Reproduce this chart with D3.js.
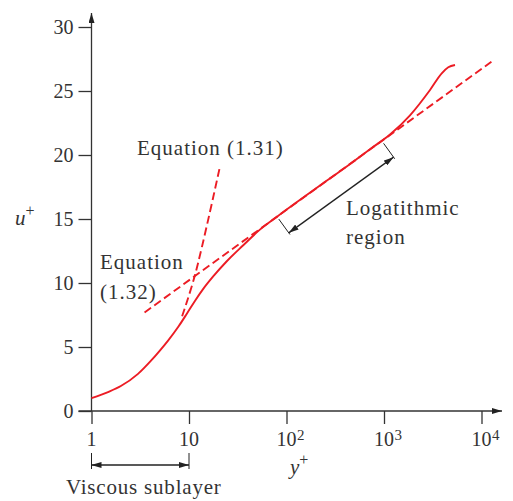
<!DOCTYPE html>
<html>
<head>
<meta charset="utf-8">
<script src="https://cdn.jsdelivr.net/npm/d3@7"></script>
<style>
  html, body { margin: 0; padding: 0; background: #fff; }
  svg { display: block; }
  text { font-family: "Liberation Serif", "DejaVu Serif", serif; fill: #333; }
</style>
</head>
<body>
<script>
// Tick values
const xTicks = [1, 10, 100, 1000, 10000];
const yTicks = [0, 5, 10, 15, 20, 25, 30];

// Velocity profile u+ against y+ (solid curve)
const profileYPlus = [1, 1.5, 2, 3, 4.1, 5, 6.1, 7.8, 9.5, 11.5, 14, 17.7, 24.4, 36, 53, 80, 260, 480, 718, 1153, 1848, 2965, 3909, 4565, 5350];
const profileUPlus = [1.0, 1.5, 1.95, 2.9, 3.95, 4.7, 5.5, 6.6, 7.6, 8.6, 9.54, 10.51, 11.7, 12.95, 14.15, 15.18, 18.0, 19.45, 20.45, 21.6, 23.1, 25.08, 26.38, 26.85, 27.03];

// Equation (1.31): viscous sublayer, u+ = y+
const eq131YPlus = [8.5, 11.5, 20.5];
const eq131UPlus = [7.4, 10.6, 18.9];

// Equation (1.32): log law
const eq132YPlus = [3.5, 12700];
const eq132UPlus = [7.7, 27.3];

// Extent of the marked regions (y+)
const viscousRange = [1, 10];
const logRange = [80, 950];

const W = 513, H = 501;
const RED = "#ec1c24";
const INK = "#333";

const svg = d3.select("body").append("svg").attr("width", W).attr("height", H);
svg.append("rect").attr("width", W).attr("height", H).attr("fill", "#fff");

const x = d3.scaleLog().domain([1, 10000]).range([91.5, 481.5]);
const y = d3.scaleLinear().domain([0, 30]).range([411, 27]);

const defs = svg.append("defs");
defs.append("marker")
  .attr("id", "head").attr("viewBox", "0 0 10 6")
  .attr("refX", 10).attr("refY", 3)
  .attr("markerWidth", 10).attr("markerHeight", 6)
  .attr("markerUnits", "userSpaceOnUse")
  .attr("orient", "auto-start-reverse")
  .append("path").attr("d", "M0,0 L10,3 L0,6 Z").attr("fill", "#222");

// ---- axes ----
const yAxis = d3.axisLeft(y).tickValues(yTicks).tickSize(13).tickPadding(5).tickSizeOuter(0);
const gy = svg.append("g").attr("transform", `translate(${x(1)},0)`).call(yAxis);
gy.select(".domain").remove();
gy.selectAll(".tick line").attr("stroke", INK).attr("stroke-width", 1.3);
gy.selectAll(".tick text")
  .attr("font-size", 20).attr("fill", INK).attr("dy", "0.34em");

const xAxis = d3.axisBottom(x).tickValues(xTicks).tickSize(13).tickFormat("").tickSizeOuter(0);
const gx = svg.append("g").attr("transform", `translate(0,${y(0)})`).call(xAxis);
gx.select(".domain").remove();
gx.selectAll(".tick line").attr("stroke", INK).attr("stroke-width", 1.3);

// x tick labels: 1, 10, 10^2, 10^3, 10^4
xTicks.forEach(v => {
  const e = Math.round(Math.log10(v));
  const base = e === 0 ? "1" : "10";
  svg.append("text").attr("x", x(v)).attr("y", 446)
    .attr("text-anchor", "middle").attr("font-size", 20).text(base);
  if (e >= 2) {
    svg.append("text").attr("x", x(v) + 10.5).attr("y", 440)
      .attr("font-size", 15).text(String(e));
  }
});

// axis lines with arrowheads
svg.append("line")
  .attr("x1", x(1)).attr("y1", y(0)).attr("x2", x(1)).attr("y2", 13)
  .attr("stroke", INK).attr("stroke-width", 1.3).attr("marker-end", "url(#head)");
svg.append("line")
  .attr("x1", x(1) - 13).attr("y1", y(0)).attr("x2", 502).attr("y2", y(0))
  .attr("stroke", INK).attr("stroke-width", 1.3).attr("marker-end", "url(#head)");

// axis titles
const yt = svg.append("text").attr("x", 15).attr("y", 225).attr("font-size", 21);
yt.append("tspan").attr("font-style", "italic").text("u");
yt.append("tspan").attr("font-size", 16).attr("dy", -9).text("+");
const xt = svg.append("text").attr("x", 290).attr("y", 474).attr("font-size", 21);
xt.append("tspan").attr("font-style", "italic").text("y");
xt.append("tspan").attr("font-size", 16).attr("dy", -9).text("+");

// ---- curves ----
const line = d3.line().x(d => x(d[0])).y(d => y(d[1]));

svg.append("path")
  .datum(d3.zip(eq132YPlus, eq132UPlus))
  .attr("d", line)
  .attr("fill", "none").attr("stroke", RED).attr("stroke-width", 1.9)
  .attr("stroke-dasharray", "8,4");

svg.append("path")
  .datum(d3.zip(eq131YPlus, eq131UPlus))
  .attr("d", line.curve(d3.curveCatmullRom.alpha(0.5)))
  .attr("fill", "none").attr("stroke", RED).attr("stroke-width", 1.9)
  .attr("stroke-dasharray", "8,4");

svg.append("path")
  .datum(d3.zip(profileYPlus, profileUPlus))
  .attr("d", line.curve(d3.curveMonotoneX))
  .attr("fill", "none").attr("stroke", RED).attr("stroke-width", 1.9);

// ---- annotations ----
const lbl = (tx, ty, str) => svg.append("text").attr("x", tx).attr("y", ty)
  .attr("font-size", 21).attr("letter-spacing", 1).text(str);
lbl(137, 155, "Equation (1.31)");
lbl(100, 269, "Equation");
lbl(100, 299, "(1.32)");
lbl(346, 215, "Logatithmic");
lbl(346, 244, "region");

// logarithmic region: bars perpendicular to the log-law line, joined by a double arrow
const logU = yp => {
  const t = (Math.log(yp) - Math.log(eq132YPlus[0])) / (Math.log(eq132YPlus[1]) - Math.log(eq132YPlus[0]));
  return eq132UPlus[0] + t * (eq132UPlus[1] - eq132UPlus[0]);
};
const p0 = [x(logRange[0]), y(logU(logRange[0]))];
const p1 = [x(logRange[1]), y(logU(logRange[1]))];
const len = Math.hypot(p1[0] - p0[0], p1[1] - p0[1]);
const dir = [(p1[0] - p0[0]) / len, (p1[1] - p0[1]) / len];
const nrm = [-dir[1], dir[0]]; // points below-right of the line
const off = (p, k) => [p[0] + nrm[0] * k, p[1] + nrm[1] * k];
[p0, p1].forEach(p => {
  const a = off(p, 3), b = off(p, 22);
  svg.append("line").attr("x1", a[0]).attr("y1", a[1]).attr("x2", b[0]).attr("y2", b[1])
    .attr("stroke", "#222").attr("stroke-width", 1);
});
const a0 = off(p0, 20), a1 = off(p1, 20);
svg.append("line").attr("x1", a0[0]).attr("y1", a0[1]).attr("x2", a1[0]).attr("y2", a1[1])
  .attr("stroke", "#222").attr("stroke-width", 1.3)
  .attr("marker-start", "url(#head)").attr("marker-end", "url(#head)");

// viscous sublayer span below the axis
viscousRange.forEach(v => {
  svg.append("line").attr("x1", x(v)).attr("x2", x(v)).attr("y1", 453).attr("y2", 469)
    .attr("stroke", "#222").attr("stroke-width", 1);
});
svg.append("line").attr("x1", x(viscousRange[0])).attr("x2", x(viscousRange[1]))
  .attr("y1", 465).attr("y2", 465)
  .attr("stroke", "#222").attr("stroke-width", 1.3)
  .attr("marker-start", "url(#head)").attr("marker-end", "url(#head)");
svg.append("text").attr("x", 66).attr("y", 494).attr("font-size", 21)
  .attr("letter-spacing", 0.8).text("Viscous sublayer");
</script>
</body>
</html>
